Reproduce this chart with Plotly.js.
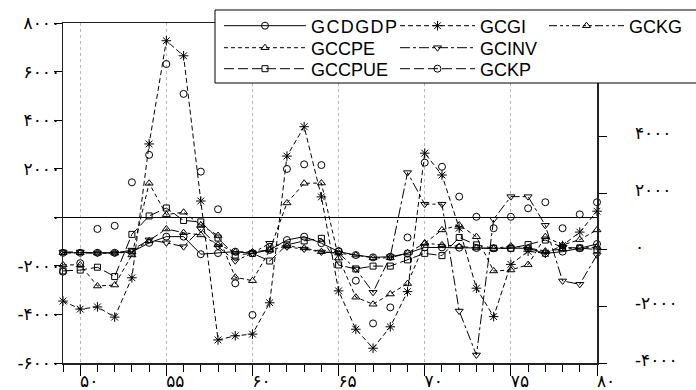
<!DOCTYPE html>
<html>
<head>
<meta charset="utf-8">
<script src="https://cdn.plot.ly/plotly-3.0.1.min.js"></script>
<style>
  html, body { margin: 0; padding: 0; background: #fff; }
  #chart { width: 696px; height: 390px; }
  .legendtext { letter-spacing: 1.4px; }
  .xtick text, .ytick text, .y2tick text { letter-spacing: 6px; }
</style>
</head>
<body>
<div id="chart"></div>
<script>
// ---- data ----
const years = [49,50,51,52,53,54,55,56,57,58,59,60,61,62,63,64,65,66,67,68,69,70,71,72,73,74,75,76,77,78,79,80];

// right-axis series
const gcdgdp = [-110,-110,-110,-110,-80,240,460,460,-160,-120,-70,-130,-10,340,460,230,-70,-190,-270,-250,-130,80,80,70,60,50,50,50,-130,-70,50,200];
const gccpue = [-750,-720,-620,-950,540,1190,1470,1030,980,410,-190,-130,-400,170,310,400,-540,-680,-580,-580,-360,-130,-210,430,170,50,50,180,340,80,60,0];
const gckg   = [-110,-110,-120,-120,-80,310,730,600,520,170,-80,-80,-10,130,60,-70,-120,-190,-290,-290,-120,230,170,110,60,40,130,60,-50,20,60,90];

// left-axis series
const gcgi   = [-3450,-3780,-3690,-4110,-2490,3020,7270,6650,670,-5050,-4880,-4810,-3520,2520,3730,840,-3030,-4610,-5390,-4510,-3060,2640,1740,-450,-2920,-4090,-1940,-1400,-1480,-1160,-610,250];
const gccpe  = [-1960,-1960,-2830,-2790,-1550,1400,110,210,-320,-750,-2470,-2610,-1350,590,1400,1410,-1680,-3290,-3580,-3160,-2730,-1070,-520,-320,-800,-2210,-2170,-1950,-800,-1140,-920,-520];
const gcinv  = [-1430,-1430,-1470,-1470,-1350,-930,-1050,-1210,-480,-1210,-1790,-1480,-1070,-1220,-1310,-1430,-1470,-2130,-3090,-1620,1840,540,540,-3860,-5670,-80,850,850,-330,-2620,-2760,-1550];
const gckp   = [-2240,-1890,-480,-350,1440,2570,6310,5080,1880,330,-2720,-4020,-1220,1990,2180,2150,-1390,-2610,-4370,-3710,-830,2250,2080,850,20,-450,20,370,620,-450,120,620];

// tick labels
const xTickVals = [50,55,60,65,70,75,80];
const xTickText = ['۵۰','۵۵','۶۰','۶۵','۷۰','۷۵','۸۰'];
const yLeftVals = [-6000,-4000,-2000,0,2000,4000,6000,8000];
const yLeftText = ['-۶۰۰۰','-۴۰۰۰','-۲۰۰۰','۰','۲۰۰۰','۴۰۰۰','۶۰۰۰','۸۰۰۰'];
const yRightVals = [-4000,-2000,0,2000,4000];
const yRightText = ['-۴۰۰۰','-۲۰۰۰','۰','۲۰۰۰','۴۰۰۰'];

// ---- layout geometry ----
const W = 696, H = 390;
const M = {l: 63, r: 99, t: 23, b: 27, autoexpand: false};
const PW = W - M.l - M.r, PH = H - M.t - M.b;
const px = x => (x - M.l) / PW;
const py = y => (H - M.b - y) / PH;

const K = '#000';
function tr(name, x, y, yaxis, dash, symbol, size, legendId, mode) {
  return {
    type: 'scatter', mode: mode || 'lines+markers', name: name, x: x, y: y, yaxis: yaxis,
    legend: legendId,
    line: {color: K, width: 1, dash: dash},
    marker: {symbol: symbol, size: size, color: K, line: {color: K, width: 1}},
    cliponaxis: false
  };
}

const data = [
  tr('GCDGDP', years, gcdgdp, 'y2', 'solid', 'circle-open', 7, 'legend'),
  tr('GCCPE',  years, gccpe,  'y',  '4px,3px', 'triangle-up-open', 7, 'legend2'),
  tr('GCCPUE', years, gccpue, 'y2', '10px,4px', 'square-open', 6, 'legend3'),
  tr('GCGI',   years, gcgi,   'y',  '5px,3px', 'asterisk-open', 8, 'legend4'),
  tr('GCINV',  years, gcinv,  'y',  '10px,3px,3px,3px', 'triangle-down-open', 7, 'legend5'),
  Object.assign(tr('GCKP', years, gckp, 'y', '10px,4px', 'circle-open', 7, 'legend6', 'markers'), {showlegend: false, legendgroup: 'kp'}),
  Object.assign(tr('GCKP', [null], [null], 'y', '10px,4px', 'circle-open', 7, 'legend6'), {legendgroup: 'kp'}),
  tr('GCKG',   years, gckg,   'y2', '8px,3px,3px,3px,3px,3px', 'triangle-up-open', 7, 'legend7')
];

const legFont = {family: 'Liberation Sans, Arial, sans-serif', size: 18, color: K};
function leg(xPix, yPix, iw) {
  return {x: px(xPix), y: py(yPix), xanchor: 'left', yanchor: 'middle', orientation: 'v',
          bgcolor: 'rgba(0,0,0,0)', borderwidth: 0, font: legFont, itemwidth: iw, tracegroupgap: 0};
}
const col1 = 219, col2 = 395, col3 = 544;
const row1 = 26, row2 = 48, row3 = 69;

const tickFont = {family: 'DejaVu Sans, sans-serif', size: 17, color: K};

const layout = {
  width: W, height: H,
  margin: M,
  paper_bgcolor: '#fff', plot_bgcolor: '#fff',
  showlegend: true,
  font: {family: 'DejaVu Sans, sans-serif', color: K},
  xaxis: {
    range: [49, 80], tickmode: 'array', tickvals: xTickVals, ticktext: xTickText,
    ticks: 'outside', ticklen: 11, tickwidth: 1, tickcolor: K,
    showline: true, linecolor: '#222', linewidth: 1.5, mirror: true,
    showgrid: true, gridcolor: '#b8b8b8', griddash: 'dot', gridwidth: 1,
    zeroline: false, tickfont: tickFont, ticklabelshift: 9, ticklabelstandoff: -9,
    minor: {tickmode: 'linear', tick0: 49, dtick: 1, ticks: 'outside', ticklen: 7, tickcolor: K, showgrid: false}
  },
  yaxis: {
    range: [-6000, 8000], tickmode: 'array', tickvals: yLeftVals, ticktext: yLeftText,
    ticks: 'outside', ticklen: 8, tickcolor: K, showline: true, linecolor: '#222', linewidth: 1.5,
    showgrid: false, zeroline: true, zerolinecolor: K, zerolinewidth: 1,
    tickfont: tickFont, ticklabelstandoff: -10, ticklabelshift: 0
  },
  yaxis2: {
    overlaying: 'y', side: 'right', anchor: 'x',
    range: [-4000, 8000], tickmode: 'array', tickvals: yRightVals, ticktext: yRightText,
    ticks: 'outside', ticklen: 8, tickcolor: K, showline: true, linecolor: '#222', linewidth: 1.5,
    showgrid: false, zeroline: false, tickfont: tickFont, ticklabelstandoff: 25, ticklabelshift: -3
  },
  legend:  leg(col1, row1, 82),
  legend2: leg(col1, row2, 82),
  legend3: leg(col1, row3, 82),
  legend4: leg(col2, row1, 75),
  legend5: leg(col2, row2, 75),
  legend6: leg(col2, row3, 75),
  legend7: leg(col3, row1, 75),
  shapes: [
    {type: 'rect', xref: 'paper', yref: 'paper', layer: 'above',
     x0: px(215), x1: px(710), y0: py(83), y1: py(10),
     line: {color: K, width: 1}, fillcolor: '#fff'}
  ]
};

Plotly.newPlot('chart', data, layout, {displayModeBar: false, staticPlot: true});
</script>
</body>
</html>
